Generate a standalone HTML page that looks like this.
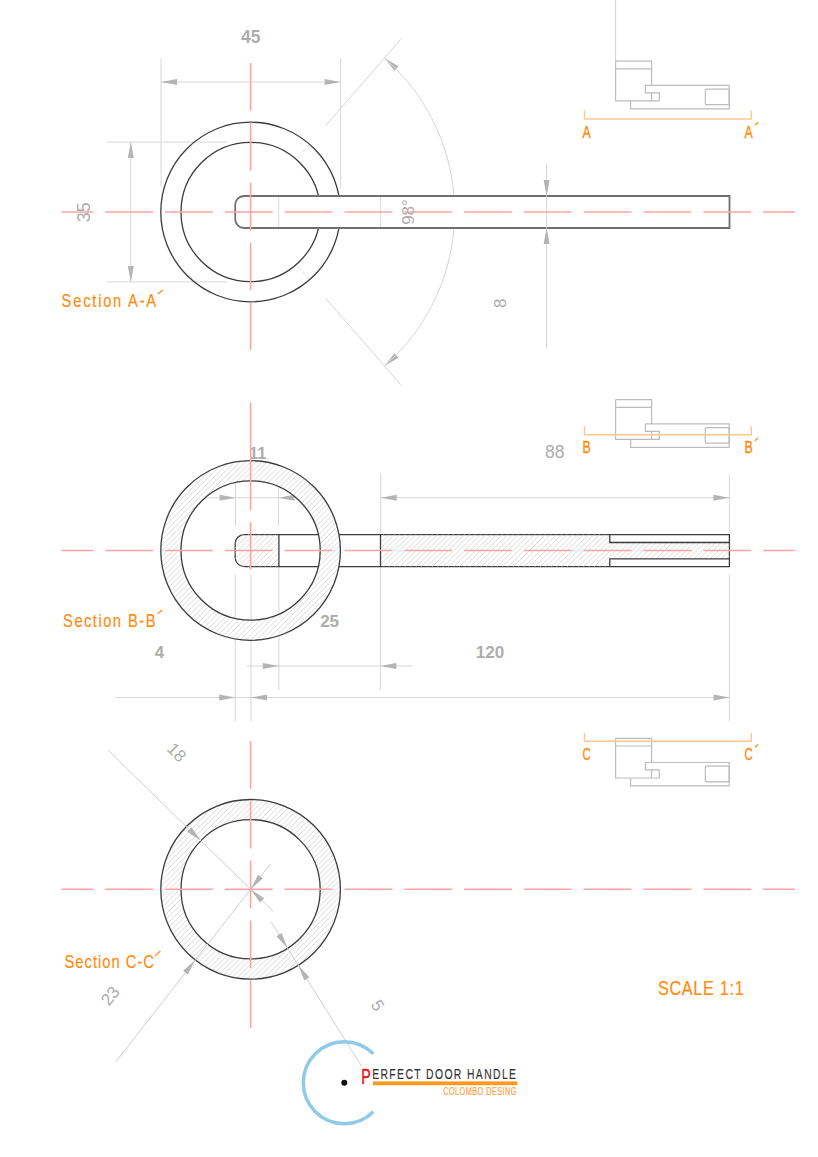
<!DOCTYPE html><html><head><meta charset="utf-8"><style>html,body{margin:0;padding:0;background:#fff;}svg{display:block;}</style></head><body><svg width="818" height="1157" viewBox="0 0 818 1157" font-family="Liberation Sans, sans-serif">
<rect width="818" height="1157" fill="#fff"/>
<line x1="161.00" y1="58.40" x2="161.00" y2="187.00" stroke="#d6d6d6" stroke-width="1" />
<line x1="340.60" y1="58.20" x2="340.60" y2="187.40" stroke="#d6d6d6" stroke-width="1" />
<line x1="161.00" y1="82.00" x2="340.60" y2="82.00" stroke="#d6d6d6" stroke-width="1" />
<polygon points="161.00,82.00 177.00,79.00 177.00,85.00" fill="#b4b4b4"/>
<polygon points="340.60,82.00 324.60,85.00 324.60,79.00" fill="#b4b4b4"/>
<text x="250.8" y="37" font-size="17.5" fill="#adadad" font-weight="bold" text-anchor="middle" dominant-baseline="central" >45</text>
<line x1="106.70" y1="142.10" x2="227.00" y2="142.10" stroke="#d6d6d6" stroke-width="1" />
<line x1="106.70" y1="281.90" x2="227.00" y2="281.90" stroke="#d6d6d6" stroke-width="1" />
<line x1="130.80" y1="142.10" x2="130.80" y2="281.90" stroke="#d6d6d6" stroke-width="1" />
<polygon points="130.80,142.10 133.80,158.10 127.80,158.10" fill="#b4b4b4"/>
<polygon points="130.80,281.90 127.80,265.90 133.80,265.90" fill="#b4b4b4"/>
<text x="84.5" y="212.2" font-size="18" fill="#adadad" font-weight="normal" text-anchor="middle" dominant-baseline="central" transform="rotate(-90 84.5 212.2)" >35</text>
<line x1="325.39" y1="125.96" x2="400.84" y2="39.17" stroke="#d6d6d6" stroke-width="1" />
<line x1="297.84" y1="157.66" x2="308.99" y2="144.83" stroke="#e2e2e2" stroke-width="1" stroke-dasharray="4 3"/>
<polygon points="384.44,58.04 398.48,66.27 394.54,70.80" fill="#b4b4b4"/>
<line x1="325.39" y1="298.04" x2="400.84" y2="384.83" stroke="#d6d6d6" stroke-width="1" />
<line x1="297.84" y1="266.34" x2="308.99" y2="279.17" stroke="#e2e2e2" stroke-width="1" stroke-dasharray="4 3"/>
<polygon points="384.44,365.96 394.54,353.20 398.48,357.73" fill="#b4b4b4"/>
<path d="M384.44,58.04 A204,204 0 0 1 384.44,365.96" fill="none" stroke="#d6d6d6" stroke-width="1"/>
<circle cx="250.6" cy="212" r="89.8" fill="none" stroke="#3c3c3c" stroke-width="1.3"/>
<circle cx="250.6" cy="212" r="69.6" fill="none" stroke="#3c3c3c" stroke-width="1.3"/>
<path d="M729.5,196 H244 A9,9 0 0 0 235.2,205 V219 A9,9 0 0 0 244,228 H729.5 Z" fill="#fff" stroke="#707070" stroke-width="1.8"/>
<line x1="278.70" y1="197.00" x2="278.70" y2="227.00" stroke="#dedede" stroke-width="1" />
<line x1="380.60" y1="197.00" x2="380.60" y2="227.00" stroke="#dedede" stroke-width="1" />
<line x1="546.60" y1="163.70" x2="546.60" y2="347.40" stroke="#d6d6d6" stroke-width="1" />
<polygon points="546.60,196.00 543.60,180.00 549.60,180.00" fill="#b4b4b4"/>
<polygon points="546.60,228.00 549.60,244.00 543.60,244.00" fill="#b4b4b4"/>
<text x="500.5" y="303.2" font-size="17" fill="#adadad" font-weight="normal" text-anchor="middle" dominant-baseline="central" transform="rotate(-90 500.5 303.2)" >8</text>
<text x="408.5" y="212" font-size="17" fill="#adadad" font-weight="normal" text-anchor="middle" dominant-baseline="central" transform="rotate(-90 408.5 212)" >98°</text>
<line x1="61.5" y1="212" x2="795" y2="212" stroke="#ffa4a4" stroke-width="1.6" stroke-dasharray="47.8 12" stroke-dashoffset="16"/>
<line x1="250.6" y1="63" x2="250.6" y2="351" stroke="#ffa4a4" stroke-width="1.6" stroke-dasharray="47.8 12" stroke-dashoffset="0"/>
<text transform="translate(61.6 307.1) scale(0.8 1)" x="0" y="0" font-size="18.4" fill="#ff8a0c" stroke="#ff8a0c" stroke-width="0.15" textLength="118.25" lengthAdjust="spacing" >Section A-A</text>
<line x1="157.70" y1="294.00" x2="162.80" y2="290.00" stroke="#ff8a0c" stroke-width="1.2" />
<line x1="615.60" y1="0.00" x2="615.60" y2="61.20" stroke="#d0d0d0" stroke-width="1" />
<polyline points="615.6,61.2 651.6,61.2 651.6,85.4" fill="none" stroke="#bcbcbc" stroke-width="1.2"/>
<polyline points="615.6,61.2 615.6,100.9 659.3,100.9 659.3,92.8 645.4,92.8 645.4,85.4 729.2,85.4 729.2,108.8 630.6,108.8 630.6,100.9" fill="none" stroke="#bcbcbc" stroke-width="1.2"/>
<polyline points="615.6,68.9 651.6,68.9" fill="none" stroke="#bcbcbc" stroke-width="1.2"/>
<polyline points="651.6,92.8 651.6,100.9" fill="none" stroke="#bcbcbc" stroke-width="1.2"/>
<rect x="705.3" y="89.1" width="23.9" height="15.6" rx="1" fill="none" stroke="#bcbcbc" stroke-width="1.2"/>
<polyline points="584.5,110.6 584.5,119.0 751.3,119.0 751.3,110.6" fill="none" stroke="#ffc890" stroke-width="1.5"/>
<text x="582.4" y="137.5" font-size="16" fill="#ff8a0c" stroke="#ff8a0c" stroke-width="0.35" textLength="8.2" lengthAdjust="spacingAndGlyphs">A</text>
<text x="744.6" y="137.5" font-size="16" fill="#ff8a0c" stroke="#ff8a0c" stroke-width="0.35" textLength="8.2" lengthAdjust="spacingAndGlyphs">A</text>
<line x1="754.90" y1="125.00" x2="758.20" y2="122.20" stroke="#ff8a0c" stroke-width="1.2" />
<line x1="235.60" y1="474.60" x2="235.60" y2="525.90" stroke="#d6d6d6" stroke-width="1" />
<line x1="278.40" y1="474.60" x2="278.40" y2="525.90" stroke="#d6d6d6" stroke-width="1" />
<line x1="207.50" y1="497.80" x2="310.00" y2="497.80" stroke="#d6d6d6" stroke-width="1" />
<polygon points="235.60,497.80 219.60,500.80 219.60,494.80" fill="#b4b4b4"/>
<polygon points="278.40,497.80 294.40,494.80 294.40,500.80" fill="#b4b4b4"/>
<text x="257.8" y="452.5" font-size="16.5" fill="#adadad" font-weight="bold" text-anchor="middle" dominant-baseline="central" >11</text>
<line x1="380.70" y1="473.50" x2="380.70" y2="534.00" stroke="#d6d6d6" stroke-width="1" />
<line x1="729.40" y1="474.30" x2="729.40" y2="534.00" stroke="#d6d6d6" stroke-width="1" />
<line x1="380.70" y1="497.70" x2="729.40" y2="497.70" stroke="#d6d6d6" stroke-width="1" />
<polygon points="380.70,497.70 396.70,494.70 396.70,500.70" fill="#b4b4b4"/>
<polygon points="729.40,497.70 713.40,500.70 713.40,494.70" fill="#b4b4b4"/>
<text x="554.7" y="452" font-size="17.5" fill="#adadad" font-weight="normal" text-anchor="middle" dominant-baseline="central" >88</text>
<line x1="235.20" y1="574.70" x2="235.20" y2="721.50" stroke="#d6d6d6" stroke-width="1" />
<line x1="251.00" y1="574.70" x2="251.00" y2="721.50" stroke="#d6d6d6" stroke-width="1" />
<line x1="278.90" y1="566.60" x2="278.90" y2="690.00" stroke="#d6d6d6" stroke-width="1" />
<line x1="380.30" y1="566.60" x2="380.30" y2="690.00" stroke="#d6d6d6" stroke-width="1" />
<line x1="729.40" y1="574.50" x2="729.40" y2="721.00" stroke="#d6d6d6" stroke-width="1" />
<line x1="247.00" y1="666.00" x2="412.40" y2="666.00" stroke="#d6d6d6" stroke-width="1" />
<polygon points="278.90,666.00 262.90,669.00 262.90,663.00" fill="#b4b4b4"/>
<polygon points="380.30,666.00 396.30,663.00 396.30,669.00" fill="#b4b4b4"/>
<line x1="115.00" y1="697.50" x2="729.50" y2="697.50" stroke="#d6d6d6" stroke-width="1" />
<polygon points="235.20,697.50 219.20,700.50 219.20,694.50" fill="#b4b4b4"/>
<polygon points="251.00,697.50 267.00,694.50 267.00,700.50" fill="#b4b4b4"/>
<polygon points="729.50,697.50 713.50,700.50 713.50,694.50" fill="#b4b4b4"/>
<text x="329.6" y="621" font-size="17" fill="#adadad" font-weight="bold" text-anchor="middle" dominant-baseline="central" >25</text>
<text x="159.5" y="652" font-size="17" fill="#adadad" font-weight="bold" text-anchor="middle" dominant-baseline="central" >4</text>
<text x="490" y="652" font-size="17" fill="#adadad" font-weight="bold" text-anchor="middle" dominant-baseline="central" >120</text>
<path d="M729.4,534.6 H244 A9,9 0 0 0 235.2,543.6 V557.6 A9,9 0 0 0 244,566.6 H729.4 Z" fill="#fff" stroke="#3c3c3c" stroke-width="1.3"/>
<clipPath id="c1"><path d="M278.9,534.6 H244 A9,9 0 0 0 235.2,543.6 V557.6 A9,9 0 0 0 244,566.6 H278.9 Z" clip-rule="evenodd"/></clipPath>
<path d="M184.00,572.00 L228.00,528.00 M189.40,572.00 L233.40,528.00 M194.80,572.00 L238.80,528.00 M200.20,572.00 L244.20,528.00 M205.60,572.00 L249.60,528.00 M211.00,572.00 L255.00,528.00 M216.40,572.00 L260.40,528.00 M221.80,572.00 L265.80,528.00 M227.20,572.00 L271.20,528.00 M232.60,572.00 L276.60,528.00 M238.00,572.00 L282.00,528.00 M243.40,572.00 L287.40,528.00 M248.80,572.00 L292.80,528.00 M254.20,572.00 L298.20,528.00 M259.60,572.00 L303.60,528.00 M265.00,572.00 L309.00,528.00 M270.40,572.00 L314.40,528.00 M275.80,572.00 L319.80,528.00 M281.20,572.00 L325.20,528.00 M286.60,572.00 L330.60,528.00" stroke="#d8d8d8" stroke-width="0.9" fill="none" clip-path="url(#c1)"/>
<clipPath id="c2"><path d="M380.5,534.6 H609.8 V542.5 H729.4 V558.9 H609.8 V566.6 H380.5 Z" clip-rule="evenodd"/></clipPath>
<path d="M329.80,572.00 L373.80,528.00 M335.20,572.00 L379.20,528.00 M340.60,572.00 L384.60,528.00 M346.00,572.00 L390.00,528.00 M351.40,572.00 L395.40,528.00 M356.80,572.00 L400.80,528.00 M362.20,572.00 L406.20,528.00 M367.60,572.00 L411.60,528.00 M373.00,572.00 L417.00,528.00 M378.40,572.00 L422.40,528.00 M383.80,572.00 L427.80,528.00 M389.20,572.00 L433.20,528.00 M394.60,572.00 L438.60,528.00 M400.00,572.00 L444.00,528.00 M405.40,572.00 L449.40,528.00 M410.80,572.00 L454.80,528.00 M416.20,572.00 L460.20,528.00 M421.60,572.00 L465.60,528.00 M427.00,572.00 L471.00,528.00 M432.40,572.00 L476.40,528.00 M437.80,572.00 L481.80,528.00 M443.20,572.00 L487.20,528.00 M448.60,572.00 L492.60,528.00 M454.00,572.00 L498.00,528.00 M459.40,572.00 L503.40,528.00 M464.80,572.00 L508.80,528.00 M470.20,572.00 L514.20,528.00 M475.60,572.00 L519.60,528.00 M481.00,572.00 L525.00,528.00 M486.40,572.00 L530.40,528.00 M491.80,572.00 L535.80,528.00 M497.20,572.00 L541.20,528.00 M502.60,572.00 L546.60,528.00 M508.00,572.00 L552.00,528.00 M513.40,572.00 L557.40,528.00 M518.80,572.00 L562.80,528.00 M524.20,572.00 L568.20,528.00 M529.60,572.00 L573.60,528.00 M535.00,572.00 L579.00,528.00 M540.40,572.00 L584.40,528.00 M545.80,572.00 L589.80,528.00 M551.20,572.00 L595.20,528.00 M556.60,572.00 L600.60,528.00 M562.00,572.00 L606.00,528.00 M567.40,572.00 L611.40,528.00 M572.80,572.00 L616.80,528.00 M578.20,572.00 L622.20,528.00 M583.60,572.00 L627.60,528.00 M589.00,572.00 L633.00,528.00 M594.40,572.00 L638.40,528.00 M599.80,572.00 L643.80,528.00 M605.20,572.00 L649.20,528.00 M610.60,572.00 L654.60,528.00 M616.00,572.00 L660.00,528.00 M621.40,572.00 L665.40,528.00 M626.80,572.00 L670.80,528.00 M632.20,572.00 L676.20,528.00 M637.60,572.00 L681.60,528.00 M643.00,572.00 L687.00,528.00 M648.40,572.00 L692.40,528.00 M653.80,572.00 L697.80,528.00 M659.20,572.00 L703.20,528.00 M664.60,572.00 L708.60,528.00 M670.00,572.00 L714.00,528.00 M675.40,572.00 L719.40,528.00 M680.80,572.00 L724.80,528.00 M686.20,572.00 L730.20,528.00 M691.60,572.00 L735.60,528.00 M697.00,572.00 L741.00,528.00 M702.40,572.00 L746.40,528.00 M707.80,572.00 L751.80,528.00 M713.20,572.00 L757.20,528.00 M718.60,572.00 L762.60,528.00 M724.00,572.00 L768.00,528.00 M729.40,572.00 L773.40,528.00 M734.80,572.00 L778.80,528.00" stroke="#d8d8d8" stroke-width="0.9" fill="none" clip-path="url(#c2)"/>
<line x1="278.90" y1="534.60" x2="278.90" y2="566.60" stroke="#3c3c3c" stroke-width="1.3" />
<line x1="380.50" y1="534.60" x2="380.50" y2="566.60" stroke="#3c3c3c" stroke-width="1.3" />
<polyline points="609.8,534.6 609.8,542.5 729.4,542.5" fill="none" stroke="#3c3c3c" stroke-width="1.3"/>
<polyline points="609.8,566.6 609.8,558.9 729.4,558.9" fill="none" stroke="#3c3c3c" stroke-width="1.3"/>
<path d="M160.8,550.5 a89.8,89.8 0 1 0 179.6,0 a89.8,89.8 0 1 0 -179.6,0 Z M181.0,550.5 a69.6,69.6 0 1 1 139.2,0 a69.6,69.6 0 1 1 -139.2,0 Z" fill="#fff" fill-rule="evenodd"/>
<clipPath id="c3"><path d="M160.8,550.5 a89.8,89.8 0 1 0 179.6,0 a89.8,89.8 0 1 0 -179.6,0 Z M181.0,550.5 a69.6,69.6 0 1 1 139.2,0 a69.6,69.6 0 1 1 -139.2,0 Z" clip-rule="evenodd"/></clipPath>
<path d="M-28.70,644.30 L158.90,456.70 M-23.30,644.30 L164.30,456.70 M-17.90,644.30 L169.70,456.70 M-12.50,644.30 L175.10,456.70 M-7.10,644.30 L180.50,456.70 M-1.70,644.30 L185.90,456.70 M3.70,644.30 L191.30,456.70 M9.10,644.30 L196.70,456.70 M14.50,644.30 L202.10,456.70 M19.90,644.30 L207.50,456.70 M25.30,644.30 L212.90,456.70 M30.70,644.30 L218.30,456.70 M36.10,644.30 L223.70,456.70 M41.50,644.30 L229.10,456.70 M46.90,644.30 L234.50,456.70 M52.30,644.30 L239.90,456.70 M57.70,644.30 L245.30,456.70 M63.10,644.30 L250.70,456.70 M68.50,644.30 L256.10,456.70 M73.90,644.30 L261.50,456.70 M79.30,644.30 L266.90,456.70 M84.70,644.30 L272.30,456.70 M90.10,644.30 L277.70,456.70 M95.50,644.30 L283.10,456.70 M100.90,644.30 L288.50,456.70 M106.30,644.30 L293.90,456.70 M111.70,644.30 L299.30,456.70 M117.10,644.30 L304.70,456.70 M122.50,644.30 L310.10,456.70 M127.90,644.30 L315.50,456.70 M133.30,644.30 L320.90,456.70 M138.70,644.30 L326.30,456.70 M144.10,644.30 L331.70,456.70 M149.50,644.30 L337.10,456.70 M154.90,644.30 L342.50,456.70 M160.30,644.30 L347.90,456.70 M165.70,644.30 L353.30,456.70 M171.10,644.30 L358.70,456.70 M176.50,644.30 L364.10,456.70 M181.90,644.30 L369.50,456.70 M187.30,644.30 L374.90,456.70 M192.70,644.30 L380.30,456.70 M198.10,644.30 L385.70,456.70 M203.50,644.30 L391.10,456.70 M208.90,644.30 L396.50,456.70 M214.30,644.30 L401.90,456.70 M219.70,644.30 L407.30,456.70 M225.10,644.30 L412.70,456.70 M230.50,644.30 L418.10,456.70 M235.90,644.30 L423.50,456.70 M241.30,644.30 L428.90,456.70 M246.70,644.30 L434.30,456.70 M252.10,644.30 L439.70,456.70 M257.50,644.30 L445.10,456.70 M262.90,644.30 L450.50,456.70 M268.30,644.30 L455.90,456.70 M273.70,644.30 L461.30,456.70 M279.10,644.30 L466.70,456.70 M284.50,644.30 L472.10,456.70 M289.90,644.30 L477.50,456.70 M295.30,644.30 L482.90,456.70 M300.70,644.30 L488.30,456.70 M306.10,644.30 L493.70,456.70 M311.50,644.30 L499.10,456.70 M316.90,644.30 L504.50,456.70 M322.30,644.30 L509.90,456.70 M327.70,644.30 L515.30,456.70 M333.10,644.30 L520.70,456.70 M338.50,644.30 L526.10,456.70 M343.90,644.30 L531.50,456.70" stroke="#d8d8d8" stroke-width="0.9" fill="none" clip-path="url(#c3)"/>
<circle cx="250.6" cy="550.5" r="89.8" fill="none" stroke="#3c3c3c" stroke-width="1.3"/>
<circle cx="250.6" cy="550.5" r="69.6" fill="none" stroke="#3c3c3c" stroke-width="1.3"/>
<line x1="61.5" y1="550.5" x2="795" y2="550.5" stroke="#ffa4a4" stroke-width="1.6" stroke-dasharray="47.8 12" stroke-dashoffset="16"/>
<line x1="250.6" y1="402.4" x2="250.6" y2="510.1" stroke="#ffa4a4" stroke-width="1.6"/>
<line x1="250.6" y1="522.2" x2="250.6" y2="569.8" stroke="#ffa4a4" stroke-width="1.6"/>
<text transform="translate(63.1 626.8) scale(0.8 1)" x="0" y="0" font-size="18.4" fill="#ff8a0c" stroke="#ff8a0c" stroke-width="0.15" textLength="115.50" lengthAdjust="spacing" >Section B-B</text>
<line x1="157.70" y1="613.90" x2="162.10" y2="610.00" stroke="#ff8a0c" stroke-width="1.2" />
<polyline points="615.6,399.7 651.6,399.7 651.6,423.9" fill="none" stroke="#bcbcbc" stroke-width="1.2"/>
<polyline points="615.6,399.7 615.6,439.4 659.3,439.4 659.3,431.3 645.4,431.3 645.4,423.9 729.2,423.9 729.2,447.3 630.6,447.3 630.6,439.4" fill="none" stroke="#bcbcbc" stroke-width="1.2"/>
<polyline points="615.6,407.4 651.6,407.4" fill="none" stroke="#bcbcbc" stroke-width="1.2"/>
<polyline points="651.6,431.3 651.6,439.4" fill="none" stroke="#bcbcbc" stroke-width="1.2"/>
<rect x="705.3" y="427.6" width="23.9" height="15.6" rx="1" fill="none" stroke="#bcbcbc" stroke-width="1.2"/>
<polyline points="584.5,426.3 584.5,434.7 751.3,434.7 751.3,426.3" fill="none" stroke="#ffc890" stroke-width="1.5"/>
<text x="582.4" y="453.2" font-size="16" fill="#ff8a0c" stroke="#ff8a0c" stroke-width="0.35" textLength="8.2" lengthAdjust="spacingAndGlyphs">B</text>
<text x="744.6" y="453.2" font-size="16" fill="#ff8a0c" stroke="#ff8a0c" stroke-width="0.35" textLength="8.2" lengthAdjust="spacingAndGlyphs">B</text>
<line x1="754.90" y1="440.70" x2="758.20" y2="437.90" stroke="#ff8a0c" stroke-width="1.2" />
<path d="M160.8,889.3 a89.8,89.8 0 1 0 179.6,0 a89.8,89.8 0 1 0 -179.6,0 Z M181.0,889.3 a69.6,69.6 0 1 1 139.2,0 a69.6,69.6 0 1 1 -139.2,0 Z" fill="#fff" fill-rule="evenodd"/>
<clipPath id="c4"><path d="M160.8,889.3 a89.8,89.8 0 1 0 179.6,0 a89.8,89.8 0 1 0 -179.6,0 Z M181.0,889.3 a69.6,69.6 0 1 1 139.2,0 a69.6,69.6 0 1 1 -139.2,0 Z" clip-rule="evenodd"/></clipPath>
<path d="M-27.30,983.10 L160.30,795.50 M-21.90,983.10 L165.70,795.50 M-16.50,983.10 L171.10,795.50 M-11.10,983.10 L176.50,795.50 M-5.70,983.10 L181.90,795.50 M-0.30,983.10 L187.30,795.50 M5.10,983.10 L192.70,795.50 M10.50,983.10 L198.10,795.50 M15.90,983.10 L203.50,795.50 M21.30,983.10 L208.90,795.50 M26.70,983.10 L214.30,795.50 M32.10,983.10 L219.70,795.50 M37.50,983.10 L225.10,795.50 M42.90,983.10 L230.50,795.50 M48.30,983.10 L235.90,795.50 M53.70,983.10 L241.30,795.50 M59.10,983.10 L246.70,795.50 M64.50,983.10 L252.10,795.50 M69.90,983.10 L257.50,795.50 M75.30,983.10 L262.90,795.50 M80.70,983.10 L268.30,795.50 M86.10,983.10 L273.70,795.50 M91.50,983.10 L279.10,795.50 M96.90,983.10 L284.50,795.50 M102.30,983.10 L289.90,795.50 M107.70,983.10 L295.30,795.50 M113.10,983.10 L300.70,795.50 M118.50,983.10 L306.10,795.50 M123.90,983.10 L311.50,795.50 M129.30,983.10 L316.90,795.50 M134.70,983.10 L322.30,795.50 M140.10,983.10 L327.70,795.50 M145.50,983.10 L333.10,795.50 M150.90,983.10 L338.50,795.50 M156.30,983.10 L343.90,795.50 M161.70,983.10 L349.30,795.50 M167.10,983.10 L354.70,795.50 M172.50,983.10 L360.10,795.50 M177.90,983.10 L365.50,795.50 M183.30,983.10 L370.90,795.50 M188.70,983.10 L376.30,795.50 M194.10,983.10 L381.70,795.50 M199.50,983.10 L387.10,795.50 M204.90,983.10 L392.50,795.50 M210.30,983.10 L397.90,795.50 M215.70,983.10 L403.30,795.50 M221.10,983.10 L408.70,795.50 M226.50,983.10 L414.10,795.50 M231.90,983.10 L419.50,795.50 M237.30,983.10 L424.90,795.50 M242.70,983.10 L430.30,795.50 M248.10,983.10 L435.70,795.50 M253.50,983.10 L441.10,795.50 M258.90,983.10 L446.50,795.50 M264.30,983.10 L451.90,795.50 M269.70,983.10 L457.30,795.50 M275.10,983.10 L462.70,795.50 M280.50,983.10 L468.10,795.50 M285.90,983.10 L473.50,795.50 M291.30,983.10 L478.90,795.50 M296.70,983.10 L484.30,795.50 M302.10,983.10 L489.70,795.50 M307.50,983.10 L495.10,795.50 M312.90,983.10 L500.50,795.50 M318.30,983.10 L505.90,795.50 M323.70,983.10 L511.30,795.50 M329.10,983.10 L516.70,795.50 M334.50,983.10 L522.10,795.50 M339.90,983.10 L527.50,795.50 M345.30,983.10 L532.90,795.50" stroke="#d8d8d8" stroke-width="0.9" fill="none" clip-path="url(#c4)"/>
<circle cx="250.6" cy="889.3" r="89.8" fill="none" stroke="#3c3c3c" stroke-width="1.3"/>
<circle cx="250.6" cy="889.3" r="69.6" fill="none" stroke="#3c3c3c" stroke-width="1.3"/>
<line x1="61.5" y1="889.3" x2="795" y2="889.3" stroke="#ffa4a4" stroke-width="1.6" stroke-dasharray="47.8 12" stroke-dashoffset="16"/>
<line x1="250.6" y1="741" x2="250.6" y2="1029" stroke="#ffa4a4" stroke-width="1.6" stroke-dasharray="47.8 12" stroke-dashoffset="0"/>
<line x1="108.18" y1="750.32" x2="273.50" y2="911.65" stroke="#cfcfcf" stroke-width="1" />
<polygon points="200.79,840.69 187.24,831.66 191.43,827.37" fill="#b4b4b4"/>
<polygon points="250.60,889.30 264.15,898.33 259.96,902.62" fill="#b4b4b4"/>
<line x1="115.77" y1="1061.87" x2="270.30" y2="864.08" stroke="#cfcfcf" stroke-width="1" />
<polygon points="195.31,960.06 187.83,974.52 183.10,970.82" fill="#b4b4b4"/>
<polygon points="250.60,889.30 258.09,874.84 262.81,878.54" fill="#b4b4b4"/>
<line x1="271.06" y1="921.91" x2="361.66" y2="1066.35" stroke="#cfcfcf" stroke-width="1" />
<polygon points="287.59,948.26 276.54,936.30 281.62,933.11" fill="#b4b4b4"/>
<polygon points="298.32,965.37 309.36,977.33 304.28,980.52" fill="#b4b4b4"/>
<text x="176.5" y="752.6" font-size="17" fill="#adadad" font-weight="normal" text-anchor="middle" dominant-baseline="central" transform="rotate(45 176.5 752.6)" >18</text>
<text x="110.5" y="996" font-size="17" fill="#adadad" font-weight="normal" text-anchor="middle" dominant-baseline="central" transform="rotate(-52 110.5 996)" >23</text>
<text x="377.5" y="1005.5" font-size="17" fill="#adadad" font-weight="normal" text-anchor="middle" dominant-baseline="central" transform="rotate(58 377.5 1005.5)" >5</text>
<text transform="translate(64.5 967.5) scale(0.8 1)" x="0" y="0" font-size="18.4" fill="#ff8a0c" stroke="#ff8a0c" stroke-width="0.15" textLength="111.88" lengthAdjust="spacing" >Section C-C</text>
<line x1="154.90" y1="956.10" x2="160.40" y2="951.00" stroke="#ff8a0c" stroke-width="1.2" />
<polyline points="615.6,738.3 651.6,738.3 651.6,762.5" fill="none" stroke="#bcbcbc" stroke-width="1.2"/>
<polyline points="615.6,738.3 615.6,778.0 659.3,778.0 659.3,769.9 645.4,769.9 645.4,762.5 729.2,762.5 729.2,785.9 630.6,785.9 630.6,778.0" fill="none" stroke="#bcbcbc" stroke-width="1.2"/>
<polyline points="615.6,746.0 651.6,746.0" fill="none" stroke="#bcbcbc" stroke-width="1.2"/>
<polyline points="651.6,769.9 651.6,778.0" fill="none" stroke="#bcbcbc" stroke-width="1.2"/>
<rect x="705.3" y="766.2" width="23.9" height="15.6" rx="1" fill="none" stroke="#bcbcbc" stroke-width="1.2"/>
<polyline points="584.5,732.9 584.5,741.3 751.3,741.3 751.3,732.9" fill="none" stroke="#ffc890" stroke-width="1.5"/>
<text x="582.4" y="759.8" font-size="16" fill="#ff8a0c" stroke="#ff8a0c" stroke-width="0.35" textLength="8.2" lengthAdjust="spacingAndGlyphs">C</text>
<text x="744.6" y="759.8" font-size="16" fill="#ff8a0c" stroke="#ff8a0c" stroke-width="0.35" textLength="8.2" lengthAdjust="spacingAndGlyphs">C</text>
<line x1="754.90" y1="747.30" x2="758.20" y2="744.50" stroke="#ff8a0c" stroke-width="1.2" />
<text transform="translate(657.9 995.4) scale(0.78 1)" x="0" y="0" font-size="20.8" fill="#ff8a0c" stroke="#ff8a0c" stroke-width="0.15" textLength="110.00" lengthAdjust="spacing" >SCALE 1:1</text>
<path d="M373.29,1053.81 A41,41 0 1 0 373.29,1111.79" fill="none" stroke="#8fcbe6" stroke-width="3.5"/>
<circle cx="344.3" cy="1082.8" r="3" fill="#111"/>
<text x="361.3" y="1083.7" font-size="22" fill="#e8202a" stroke="#e8202a" stroke-width="0.7" textLength="9.4" lengthAdjust="spacingAndGlyphs">P</text>
<text transform="translate(372.2 1078.6) scale(0.72 1)" x="0" y="0" font-size="14.4" fill="#333" stroke="#333" stroke-width="0.15" textLength="199.72" lengthAdjust="spacing" >ERFECT DOOR HANDLE</text>
<rect x="373" y="1081.4" width="144.4" height="3.8" fill="#ff9a1f"/>
<text transform="translate(443.2 1095.2) scale(0.72 1)" x="0" y="0" font-size="10.2" fill="#ffa040" stroke="#ffa040" stroke-width="0.15" textLength="101.81" lengthAdjust="spacing" >COLOMBO DESING</text>
</svg></body></html>
